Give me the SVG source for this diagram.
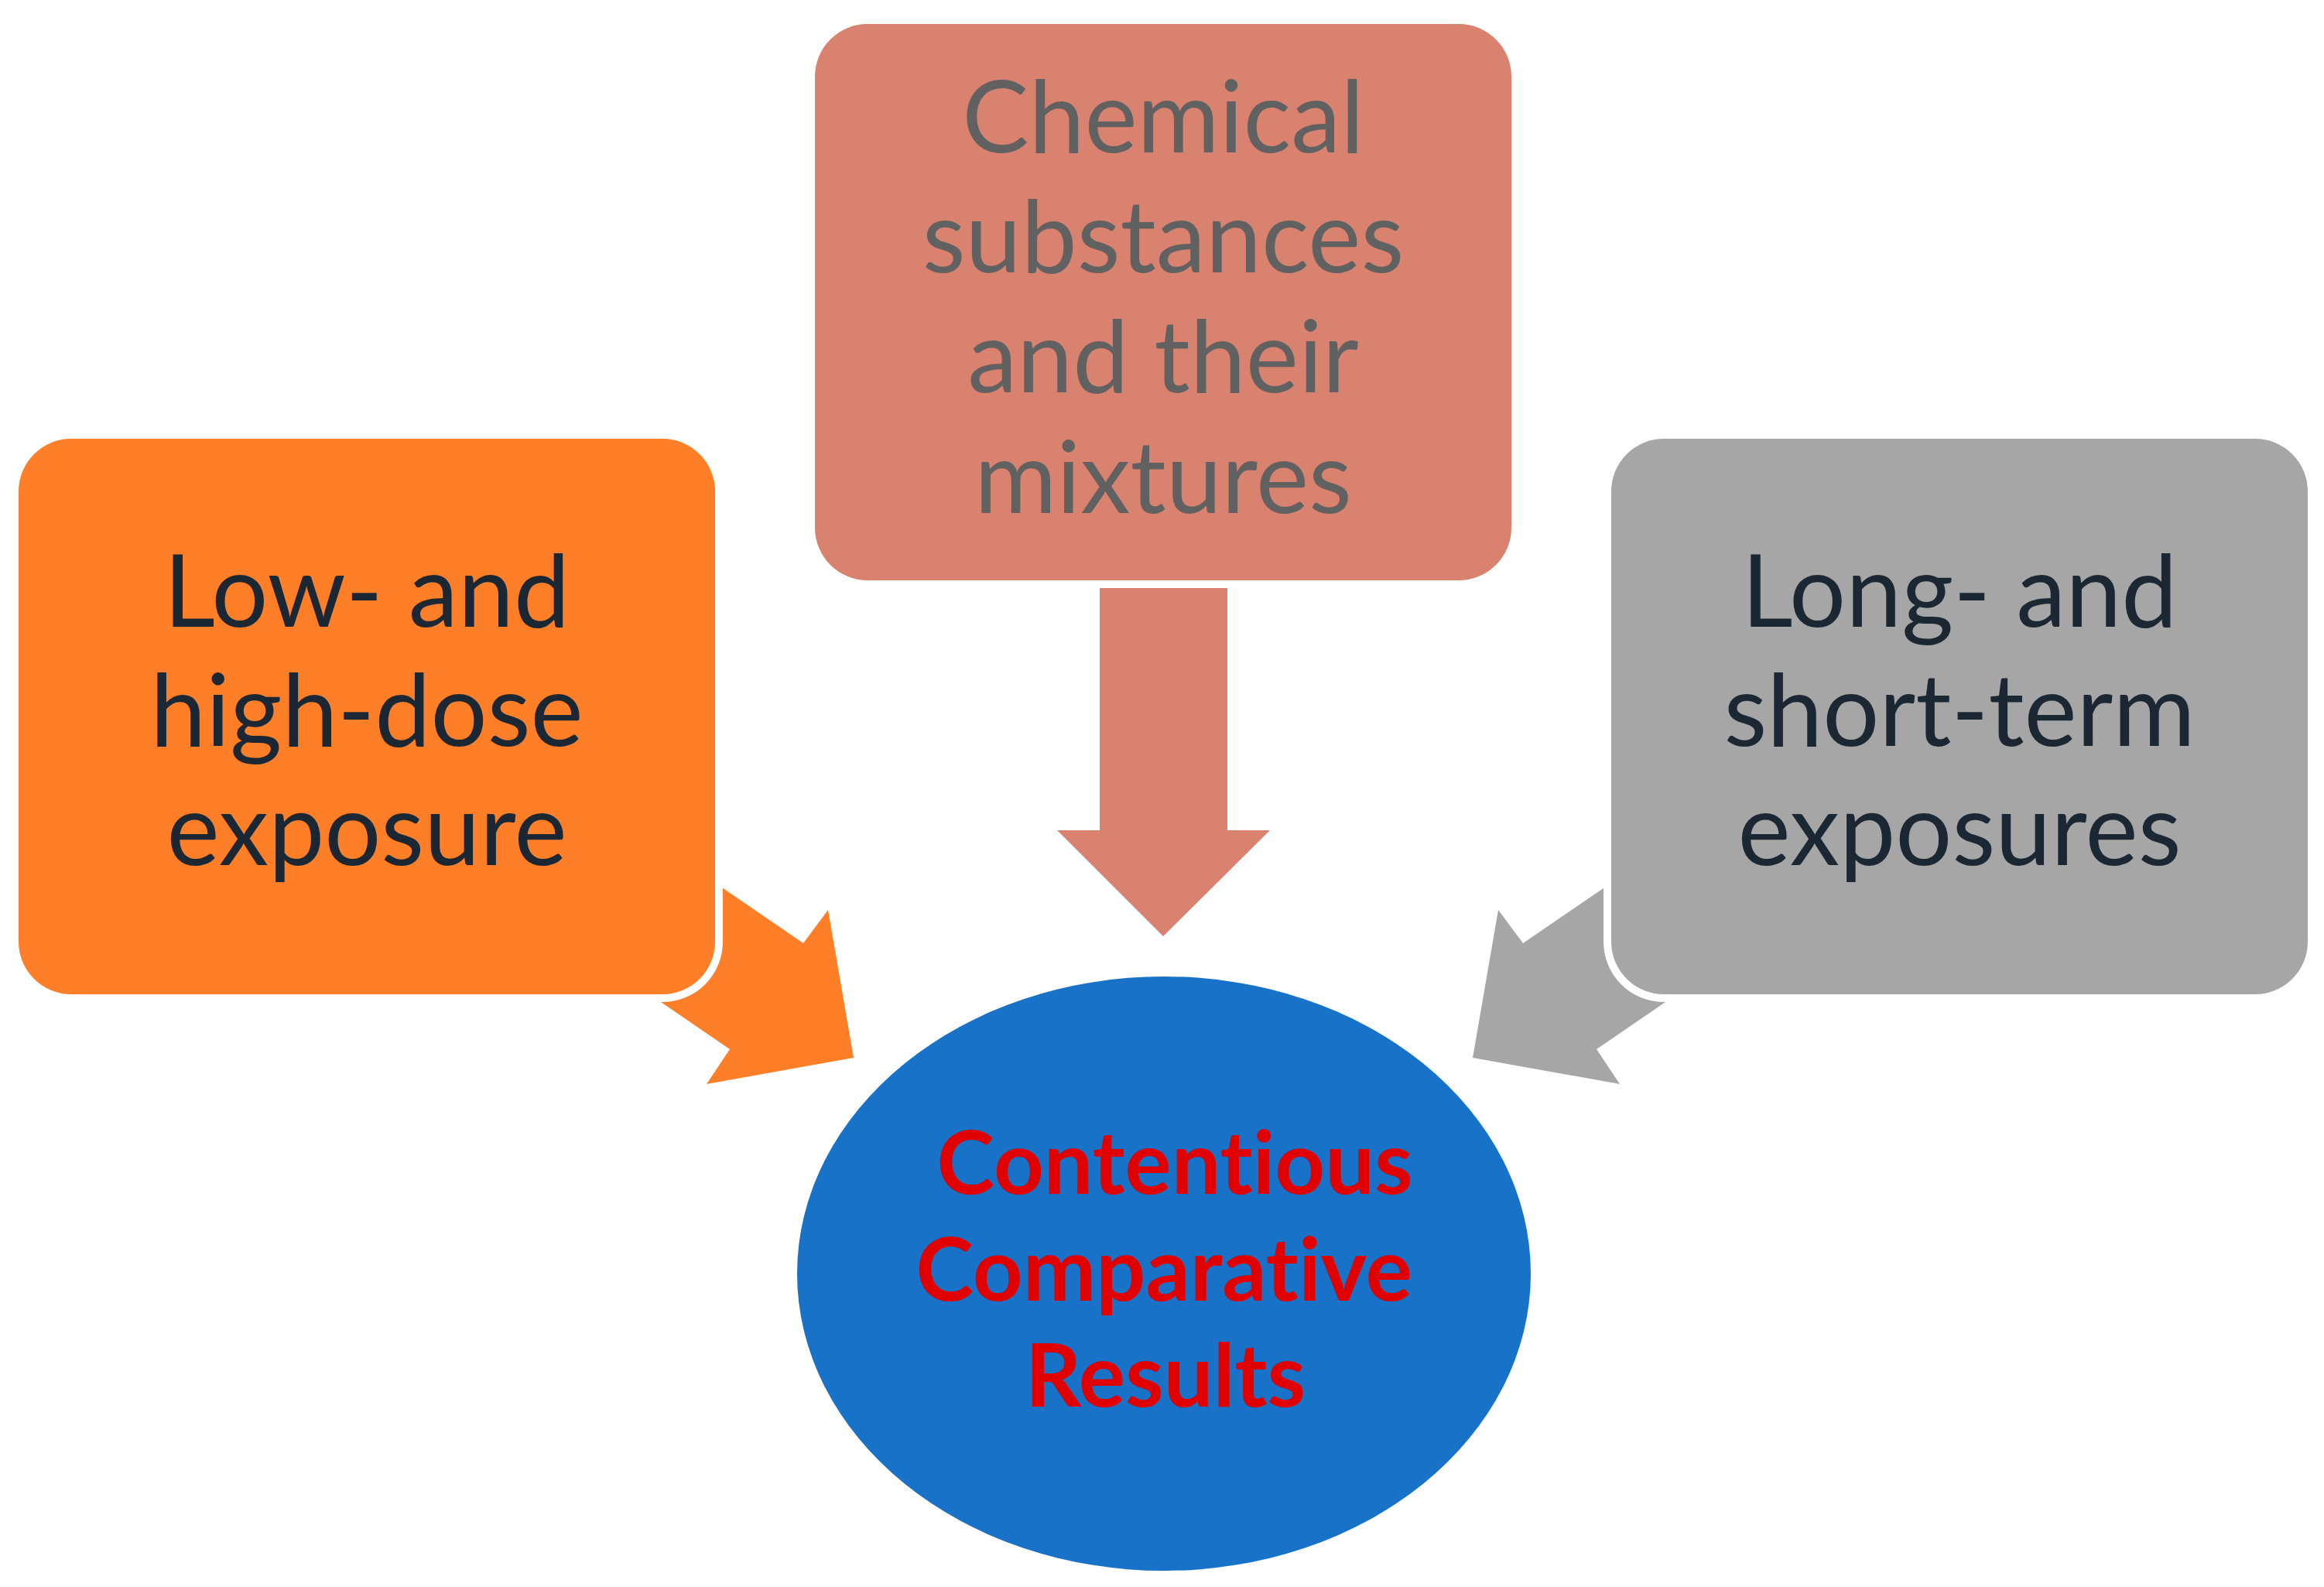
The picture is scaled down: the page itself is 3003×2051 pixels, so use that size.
<svg xmlns="http://www.w3.org/2000/svg" width="3003" height="2051" viewBox="0 0 3003 2051">
<style>
.box{stroke:#fff;stroke-width:20;paint-order:stroke}
.t{font-family:Lato,"Open Sans","Liberation Sans",sans-serif;font-size:129px;text-anchor:middle;font-variant-ligatures:none;font-feature-settings:"liga" 0}
.dark{fill:#1B2733}
.grey{fill:#616161}
.red{font-weight:bold;font-size:113px;fill:#E00000}
</style>
<rect width="3003" height="2051" fill="#fff"/>
<g id="connectors">
<polygon fill="#FE7F27" points="1103,1367 1070,1176 1038,1219 832,1078 778,1243 943,1356 913,1401"/>
<polygon fill="#D9826F" points="1421,740 1586,740 1586,1073 1641,1073 1503,1210 1366,1073 1421,1073"/>
<polygon fill="#A6A6A6" points="1903,1367 1936,1176 1968,1219 2174,1078 2228,1243 2063,1356 2093,1401"/>
</g>
<g id="node-low-high">
<rect class="box" x="24" y="567" width="900" height="718" rx="68" fill="#FE7F27"/>
<text class="t dark" x="474" y="810">Low- and</text>
<text class="t dark" x="474" y="964">high-dose</text>
<text class="t dark" x="474" y="1118">exposure</text>
</g>
<g id="node-chemical">
<rect class="box" x="1053" y="31" width="900" height="719" rx="68" fill="#D9826F"/>
<text class="t grey" x="1503" y="197">Chemical</text>
<text class="t grey" x="1503" y="352">substances</text>
<text class="t grey" x="1503" y="507">and their</text>
<text class="t grey" x="1503" y="663">mixtures</text>
</g>
<g id="node-long-short">
<rect class="box" x="2082" y="567" width="900" height="718" rx="68" fill="#A6A6A6"/>
<text class="t dark" x="2532" y="810">Long- and</text>
<text class="t dark" x="2532" y="964">short-term</text>
<text class="t dark" x="2532" y="1118">exposures</text>
</g>
<g id="node-results">
<ellipse cx="1504" cy="1646" rx="474" ry="384" fill="#1873C8"/>
<text class="t red" x="1518" y="1543">Contentious</text>
<text class="t red" x="1504" y="1681">Comparative</text>
<text class="t red" x="1506" y="1818">Results</text>
</g>
</svg>
